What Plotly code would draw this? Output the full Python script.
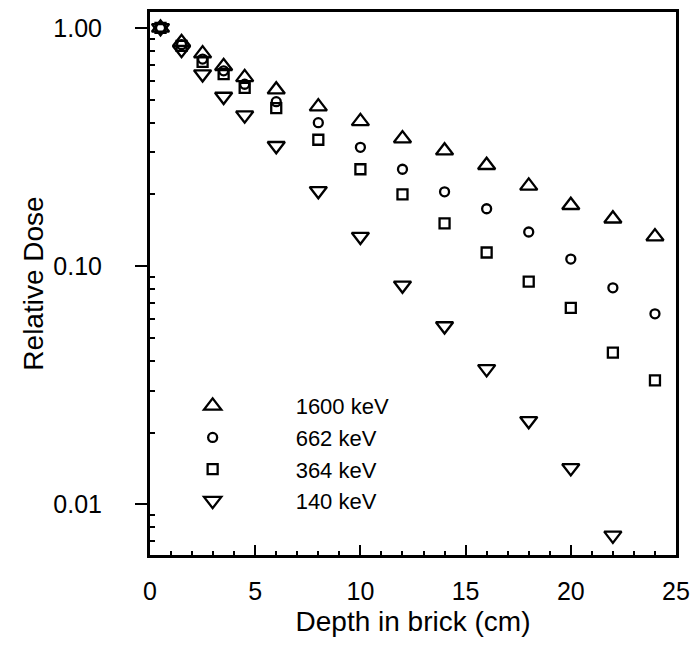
import plotly.graph_objects as go
import numpy as np

depth = [0.5, 1.5, 2.5, 3.5, 4.5, 6, 8, 10, 12, 14, 16, 18, 20, 22, 24]
dose_1600 = [1.00, 0.87, 0.78, 0.69, 0.62, 0.55, 0.467, 0.405, 0.343, 0.305, 0.265, 0.217, 0.180, 0.158, 0.133]
dose_662 = [1.00, 0.85, 0.74, 0.66, 0.58, 0.49, 0.40, 0.315, 0.255, 0.205, 0.174, 0.139, 0.107, 0.081, 0.063]
dose_364 = [1.00, 0.84, 0.72, 0.64, 0.56, 0.46, 0.339, 0.255, 0.200, 0.151, 0.114, 0.086, 0.0667, 0.0433, 0.0331]
depth_140 = [0.5, 1.5, 2.5, 3.5, 4.5, 6, 8, 10, 12, 14, 16, 18, 20, 22]
dose_140 = [1.00, 0.81, 0.64, 0.515, 0.43, 0.32, 0.207, 0.133, 0.083, 0.056, 0.037, 0.0224, 0.0142, 0.0074]

names = ["1600 keV", "662 keV", "364 keV", "140 keV"]
y_tickvals = [0.01, 0.1, 1.0]
y_ticktext = ["0.01", "0.10", "1.00"]
x_tickvals = [0, 5, 10, 15, 20, 25]

FONT = "Arial, Liberation Sans, sans-serif"

series = [
    (depth, dose_1600, names[0], "triangle-up-open", 15),
    (depth, dose_662, names[1], "circle-open", 9),
    (depth, dose_364, names[2], "square-open", 10),
    (depth_140, dose_140, names[3], "triangle-down-open", 15),
]

fig = go.Figure()
for xs, ys, nm, sym, sz in series:
    fig.add_trace(go.Scatter(
        x=xs, y=ys, name=nm, mode="markers",
        marker=dict(symbol=sym, size=sz, color="black", line=dict(color="black", width=2.3)),
    ))

minor_y = [k * 10.0 ** e for e in range(-3, 1) for k in range(2, 10)]

fig.update_layout(
    width=699, height=660,
    margin=dict(l=150, r=14, t=9, b=105),
    paper_bgcolor="white", plot_bgcolor="white",
    font=dict(family=FONT, color="black", size=25),
    showlegend=True,
    legend=dict(
        x=-0.0387, y=0.313, xanchor="left", yanchor="top",
        itemwidth=156, font=dict(size=22, family=FONT),
        bgcolor="rgba(0,0,0,0)", borderwidth=0,
    ),
    xaxis=dict(
        range=[0, 25], tickvals=x_tickvals, ticks="inside", ticklen=10, tickwidth=2,
        tickcolor="black", showline=True, linewidth=3, linecolor="black", mirror=True,
        showgrid=False, zeroline=False, tickfont=dict(size=25), ticklabelstandoff=12,
        minor=dict(dtick=1, ticks="inside", ticklen=4, tickwidth=2, tickcolor="black", showgrid=False),
        title=dict(text="Depth in brick (cm)", font=dict(size=28), standoff=8),
    ),
    yaxis=dict(
        type="log", range=[np.log10(0.00612), np.log10(1.166)],
        tickvals=y_tickvals, ticktext=y_ticktext, ticks="outside", ticklen=12, tickwidth=2,
        tickcolor="black", showline=True, linewidth=3, linecolor="black", mirror=True,
        showgrid=False, zeroline=False, tickfont=dict(size=25), ticklabelstandoff=28,
        minor=dict(tickvals=minor_y, ticks="inside", ticklen=5, tickwidth=2, tickcolor="black", showgrid=False),
        title=dict(text="Relative Dose", font=dict(size=28), standoff=2),
    ),
)

fig.write_html("out.html")
